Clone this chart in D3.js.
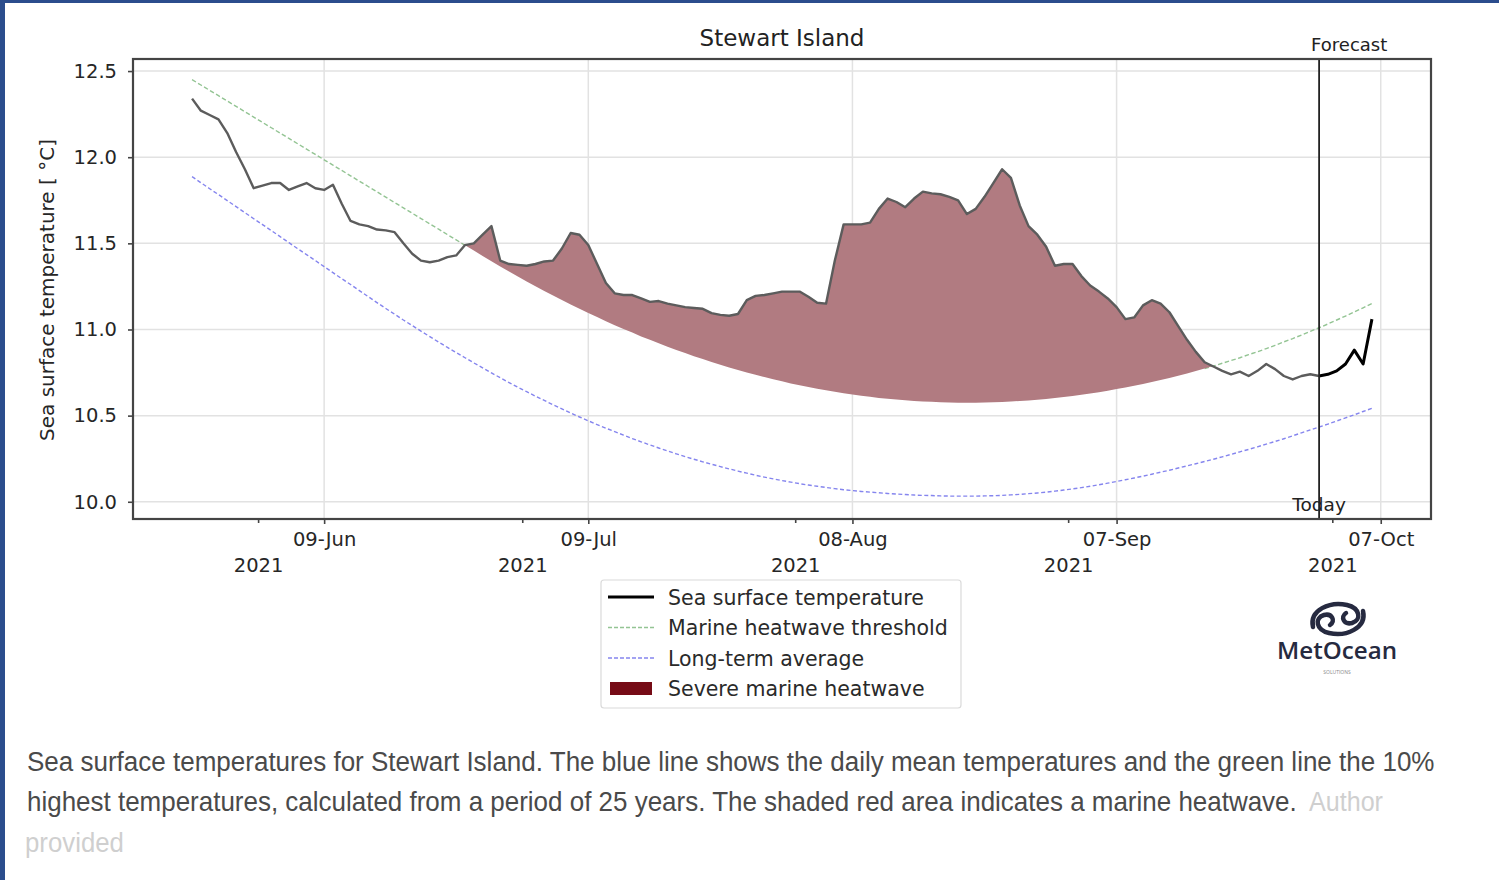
<!DOCTYPE html>
<html>
<head>
<meta charset="utf-8">
<script src="https://cdn.jsdelivr.net/npm/d3@7"></script>
<style>
  html, body { margin: 0; padding: 0; background: #ffffff; }
  svg { display: block; }
</style>
</head>
<body>
<svg id="chart" width="1499" height="880"></svg>
<script>
// Daily series starting 25 May 2021
const startDay = "2021-05-25";
const todayDay = "2021-09-30";

// Sea surface temperature (observed up to today, forecast after)
const sstValues = [
  12.34, 12.27, 12.245, 12.22, 12.14, 12.03, 11.93, 11.82, 11.835, 11.85,
  11.85, 11.81, 11.83, 11.85, 11.82, 11.81, 11.84, 11.73, 11.63, 11.61,
  11.60, 11.58, 11.575, 11.565, 11.50, 11.44, 11.40, 11.39, 11.40, 11.42,
  11.43, 11.49, 11.50, 11.55, 11.60, 11.40, 11.38, 11.375, 11.37, 11.38,
  11.395, 11.40, 11.47, 11.56, 11.55, 11.49, 11.38, 11.27, 11.21, 11.20,
  11.20, 11.18, 11.16, 11.165, 11.15, 11.14, 11.13, 11.125, 11.12, 11.095,
  11.085, 11.08, 11.09, 11.17, 11.195, 11.20, 11.21, 11.22, 11.22, 11.22,
  11.19, 11.155, 11.15, 11.40, 11.61, 11.61, 11.61, 11.62, 11.70, 11.76,
  11.74, 11.71, 11.76, 11.80, 11.79, 11.785, 11.77, 11.75, 11.67, 11.70,
  11.77, 11.85, 11.93, 11.88, 11.72, 11.60, 11.55, 11.48, 11.37, 11.38,
  11.38, 11.31, 11.255, 11.22, 11.18, 11.13, 11.06, 11.07, 11.14, 11.17,
  11.15, 11.10, 11.02, 10.94, 10.87, 10.81, 10.785, 10.76, 10.74, 10.755,
  10.73, 10.76, 10.80, 10.77, 10.73, 10.71, 10.73, 10.74, 10.73, 10.74,
  10.76, 10.80, 10.88, 10.80, 11.06
];

// Marine heatwave threshold (90th percentile climatology)
const thresholdValues = [
  12.450, 12.419, 12.388, 12.357, 12.326, 12.295, 12.264, 12.233, 12.202, 12.171,
  12.140, 12.109, 12.078, 12.047, 12.016, 11.985, 11.954, 11.923, 11.892, 11.861,
  11.830, 11.799, 11.768, 11.737, 11.706, 11.675, 11.644, 11.613, 11.582, 11.551,
  11.520, 11.489, 11.458, 11.427, 11.396, 11.366, 11.337, 11.308, 11.279, 11.251,
  11.224, 11.197, 11.171, 11.145, 11.120, 11.096, 11.072, 11.048, 11.025, 11.003,
  10.982, 10.960, 10.940, 10.920, 10.900, 10.881, 10.863, 10.845, 10.828, 10.812,
  10.796, 10.780, 10.765, 10.751, 10.737, 10.724, 10.711, 10.699, 10.687, 10.677,
  10.666, 10.656, 10.647, 10.638, 10.630, 10.622, 10.615, 10.609, 10.603, 10.598,
  10.593, 10.589, 10.585, 10.582, 10.580, 10.578, 10.576, 10.575, 10.575, 10.575,
  10.576, 10.577, 10.579, 10.582, 10.585, 10.588, 10.592, 10.597, 10.602, 10.608,
  10.614, 10.621, 10.628, 10.636, 10.645, 10.654, 10.663, 10.673, 10.684, 10.695,
  10.707, 10.719, 10.732, 10.745, 10.759, 10.773, 10.788, 10.804, 10.820, 10.836,
  10.854, 10.871, 10.889, 10.908, 10.928, 10.947, 10.968, 10.989, 11.010, 11.032,
  11.055, 11.078, 11.102, 11.126, 11.151
];

// Long-term daily mean
const averageValues = [
  11.887, 11.852, 11.817, 11.783, 11.748, 11.713, 11.678, 11.643, 11.609, 11.574,
  11.539, 11.504, 11.469, 11.435, 11.400, 11.365, 11.330, 11.295, 11.261, 11.226,
  11.191, 11.156, 11.122, 11.089, 11.055, 11.023, 10.990, 10.959, 10.927, 10.896,
  10.866, 10.836, 10.806, 10.777, 10.748, 10.720, 10.692, 10.665, 10.639, 10.613,
  10.588, 10.563, 10.539, 10.515, 10.492, 10.470, 10.448, 10.427, 10.407, 10.387,
  10.367, 10.348, 10.330, 10.312, 10.295, 10.278, 10.262, 10.247, 10.232, 10.218,
  10.204, 10.191, 10.178, 10.166, 10.154, 10.143, 10.133, 10.123, 10.114, 10.105,
  10.097, 10.090, 10.083, 10.076, 10.070, 10.065, 10.060, 10.056, 10.052, 10.048,
  10.045, 10.042, 10.039, 10.037, 10.036, 10.034, 10.033, 10.033, 10.033, 10.033,
  10.034, 10.035, 10.037, 10.040, 10.043, 10.047, 10.051, 10.056, 10.062, 10.068,
  10.075, 10.082, 10.090, 10.099, 10.108, 10.118, 10.128, 10.138, 10.149, 10.160,
  10.172, 10.183, 10.196, 10.208, 10.221, 10.234, 10.247, 10.261, 10.275, 10.290,
  10.304, 10.319, 10.335, 10.350, 10.366, 10.383, 10.400, 10.417, 10.434, 10.451,
  10.469, 10.487, 10.505, 10.524, 10.542
];

// Axis ticks
const yTicks = [10.0, 10.5, 11.0, 11.5, 12.0, 12.5];
const xTickDays = ["2021-06-09", "2021-07-09", "2021-08-08", "2021-09-07", "2021-10-07"];
const yearTickDays = ["2021-06-01T12:00", "2021-07-01T12:00", "2021-08-01T12:00", "2021-09-01T12:00", "2021-10-01T12:00"];

const legendItems = ["Sea surface temperature", "Marine heatwave threshold", "Long-term average", "Severe marine heatwave"];

const captionLine1 = "Sea surface temperatures for Stewart Island. The blue line shows the daily mean temperatures and the green line the 10%";
const captionLine2 = "highest temperatures, calculated from a period of 25 years. The shaded red area indicates a marine heatwave.";
const captionCredit1 = "Author";
const captionCredit2 = "provided";

// ---------------------------------------------------------------
const svg = d3.select("#chart");
const W = 1499, H = 880;
const plot = { left: 133, top: 59, right: 1431, bottom: 519 };
const chartFont = "'DejaVu Sans', sans-serif";
const sstColor = "#5c5c5c", thrColor = "#93c493", avgColor = "#8585ee", fillColor = "#b17b81";

svg.append("rect").attr("width", W).attr("height", H).attr("fill", "#ffffff");
// page frame
svg.append("rect").attr("x", 0).attr("y", 0).attr("width", W).attr("height", 3).attr("fill", "#2b4d8d");
svg.append("rect").attr("x", 0).attr("y", 0).attr("width", 5).attr("height", H).attr("fill", "#2b4d8d");

const parseDay = d3.utcParse("%Y-%m-%d");
const start = parseDay(startDay);
const today = parseDay(todayDay);
const dates = sstValues.map((_, i) => d3.utcDay.offset(start, i));
const n = dates.length;
const todayIdx = dates.findIndex(d => +d === +today);

const x = d3.scaleUtc()
  .domain([d3.utcHour.offset(dates[0], -161), d3.utcHour.offset(dates[n - 1], 161)])
  .range([plot.left, plot.right]);
const y = d3.scaleLinear().domain([9.90, 12.57]).range([plot.bottom, plot.top]);

const xMajor = xTickDays.map(parseDay);
const xYear = yearTickDays.map(d => d3.isoParse(d + ":00Z"));

// grid
const grid = svg.append("g").attr("stroke", "#e2e2e2").attr("stroke-width", 1.5);
grid.selectAll("line.h").data(yTicks).join("line")
  .attr("x1", plot.left).attr("x2", plot.right)
  .attr("y1", d => y(d)).attr("y2", d => y(d));
grid.selectAll("line.v").data(xMajor).join("line")
  .attr("x1", d => x(d)).attr("x2", d => x(d))
  .attr("y1", plot.top).attr("y2", plot.bottom);

// long-term average
const lineOf = vals => d3.line().x((d, i) => x(dates[i])).y(d => y(d))(vals);
svg.append("path").attr("d", lineOf(averageValues))
  .attr("fill", "none").attr("stroke", avgColor).attr("stroke-width", 1.4)
  .attr("stroke-dasharray", "4,2.5");

// threshold, left out where it sits underneath the heatwave fill
const inWave = i => i >= 0 && i < n && sstValues[i] > thresholdValues[i];
const thrLine = d3.line()
  .defined((d, i) => !inWave(i) || !inWave(i - 1) || !inWave(i + 1))
  .x((d, i) => x(dates[i])).y(d => y(d));
svg.append("path").attr("d", thrLine(thresholdValues))
  .attr("fill", "none").attr("stroke", thrColor).attr("stroke-width", 1.4)
  .attr("stroke-dasharray", "4.5,2.5");

// heatwave fill between threshold and SST where SST exceeds it
const area = d3.area()
  .x((d, i) => x(dates[i]))
  .y0((d, i) => y(thresholdValues[i]))
  .y1((d, i) => y(Math.max(d, thresholdValues[i])));
svg.append("path").attr("d", area(sstValues)).attr("fill", fillColor);

// SST observed & forecast
const obs = sstValues.slice(0, todayIdx + 1);
svg.append("path")
  .attr("d", d3.line().x((d, i) => x(dates[i])).y(d => y(d))(obs))
  .attr("fill", "none").attr("stroke", sstColor).attr("stroke-width", 2.4)
  .attr("stroke-linejoin", "round");
const fc = sstValues.slice(todayIdx);
svg.append("path")
  .attr("d", d3.line().x((d, i) => x(dates[i + todayIdx])).y(d => y(d))(fc))
  .attr("fill", "none").attr("stroke", "#000000").attr("stroke-width", 3)
  .attr("stroke-linejoin", "round");

// today marker
svg.append("line")
  .attr("x1", x(today)).attr("x2", x(today))
  .attr("y1", plot.top).attr("y2", plot.bottom)
  .attr("stroke", "#222").attr("stroke-width", 1.8);

// frame
svg.append("rect")
  .attr("x", plot.left).attr("y", plot.top)
  .attr("width", plot.right - plot.left).attr("height", plot.bottom - plot.top)
  .attr("fill", "none").attr("stroke", "#444").attr("stroke-width", 2.2);

// axes
function styleAxis(g) {
  g.select(".domain").remove();
  g.selectAll(".tick line").attr("stroke", "#444").attr("stroke-width", 1.6);
  g.selectAll(".tick text").attr("fill", "#262626")
    .style("font-family", chartFont).style("font-size", "19.5px");
}
svg.append("g").attr("transform", `translate(${plot.left},0)`)
  .call(d3.axisLeft(y).tickValues(yTicks).tickFormat(d3.format(".1f")).tickSize(5).tickPadding(11))
  .call(styleAxis);
svg.append("g").attr("transform", `translate(0,${plot.bottom})`)
  .call(d3.axisBottom(x).tickValues(xMajor).tickFormat(d3.utcFormat("%d-%b")).tickSize(5).tickPadding(8))
  .call(styleAxis);
svg.append("g").attr("transform", `translate(0,${plot.bottom})`)
  .call(d3.axisBottom(x).tickValues(xYear).tickFormat(d3.utcFormat("%Y")).tickSize(4).tickPadding(35))
  .call(styleAxis);

// titles
svg.append("text").attr("x", 782).attr("y", 46).attr("text-anchor", "middle")
  .style("font-family", chartFont).style("font-size", "23px").attr("fill", "#222")
  .text("Stewart Island");
svg.append("text").attr("x", x(today) - 8).attr("y", 51)
  .style("font-family", chartFont).style("font-size", "18px").attr("fill", "#222")
  .text("Forecast");
svg.append("text").attr("x", x(today)).attr("y", 511).attr("text-anchor", "middle")
  .style("font-family", chartFont).style("font-size", "18.5px").attr("fill", "#222")
  .text("Today");
svg.append("text").attr("transform", "translate(54,290) rotate(-90)").attr("text-anchor", "middle")
  .style("font-family", chartFont).style("font-size", "20px").attr("fill", "#262626")
  .text("Sea surface temperature [ °C]");

// legend
const lg = svg.append("g");
lg.append("rect").attr("x", 601).attr("y", 580).attr("width", 360).attr("height", 128).attr("rx", 3)
  .attr("fill", "#fff").attr("stroke", "#dadada").attr("stroke-width", 1.2);
const rowY = i => 597 + i * 30.5;
lg.selectAll("text").data(legendItems).join("text")
  .attr("x", 668).attr("y", (d, i) => rowY(i) + 7.5)
  .style("font-family", chartFont).style("font-size", "20.5px").attr("fill", "#2a2a2a")
  .text(d => d);
lg.append("line").attr("x1", 608).attr("x2", 654).attr("y1", rowY(0)).attr("y2", rowY(0))
  .attr("stroke", "#000").attr("stroke-width", 3);
lg.append("line").attr("x1", 608).attr("x2", 654).attr("y1", rowY(1)).attr("y2", rowY(1))
  .attr("stroke", thrColor).attr("stroke-width", 1.5).attr("stroke-dasharray", "4,2");
lg.append("line").attr("x1", 608).attr("x2", 654).attr("y1", rowY(2)).attr("y2", rowY(2))
  .attr("stroke", avgColor).attr("stroke-width", 1.5).attr("stroke-dasharray", "4,2");
lg.append("rect").attr("x", 610).attr("y", rowY(3) - 6.5).attr("width", 42).attr("height", 13)
  .attr("fill", "#760b16");

// MetOcean mark
const logo = svg.append("g").attr("fill", "none").attr("stroke", "#262a40")
  .attr("stroke-width", 4.5).attr("stroke-linecap", "round");
logo.append("path").attr("d", "M1313,627 C1309,610 1330,601 1347,605 C1360,608 1362,620 1352,623 C1344,625 1340,617 1346,613");
logo.append("path").attr("d", "M1363,611 C1367,628 1346,637 1329,633 C1316,630 1314,618 1324,615 C1332,613 1336,621 1330,625");
svg.append("text").attr("x", 1277).attr("y", 659).attr("textLength", 120).attr("lengthAdjust", "spacingAndGlyphs")
  .style("font-family", "'Open Sans', sans-serif").style("font-size", "24px").style("font-weight", 600)
  .attr("fill", "#262a40").text("MetOcean");
svg.append("text").attr("x", 1337).attr("y", 674).attr("text-anchor", "middle")
  .style("font-family", "'Open Sans', sans-serif").style("font-size", "5px").attr("fill", "#888")
  .text("SOLUTIONS");

// caption: narrow grotesque, each run squeezed horizontally to its width
const capFont = "'Liberation Sans', Arial, sans-serif";
function caption(txt, xPos, yPos, len, color) {
  const g = svg.append("g");
  const t = g.append("text")
    .style("font-family", capFont).style("font-size", "28px").attr("fill", color)
    .text(txt);
  const natural = t.node().getComputedTextLength();
  g.attr("transform", `translate(${xPos},${yPos}) scale(${len / natural},1)`);
}
caption(captionLine1, 27, 771, 1408, "#4a4a4a");
caption(captionLine2, 27, 811, 1270, "#4a4a4a");
caption(captionCredit1, 1309, 811, 74, "#cfcfcf");
caption(captionCredit2, 25, 852, 99, "#cfcfcf");
</script>
</body>
</html>
